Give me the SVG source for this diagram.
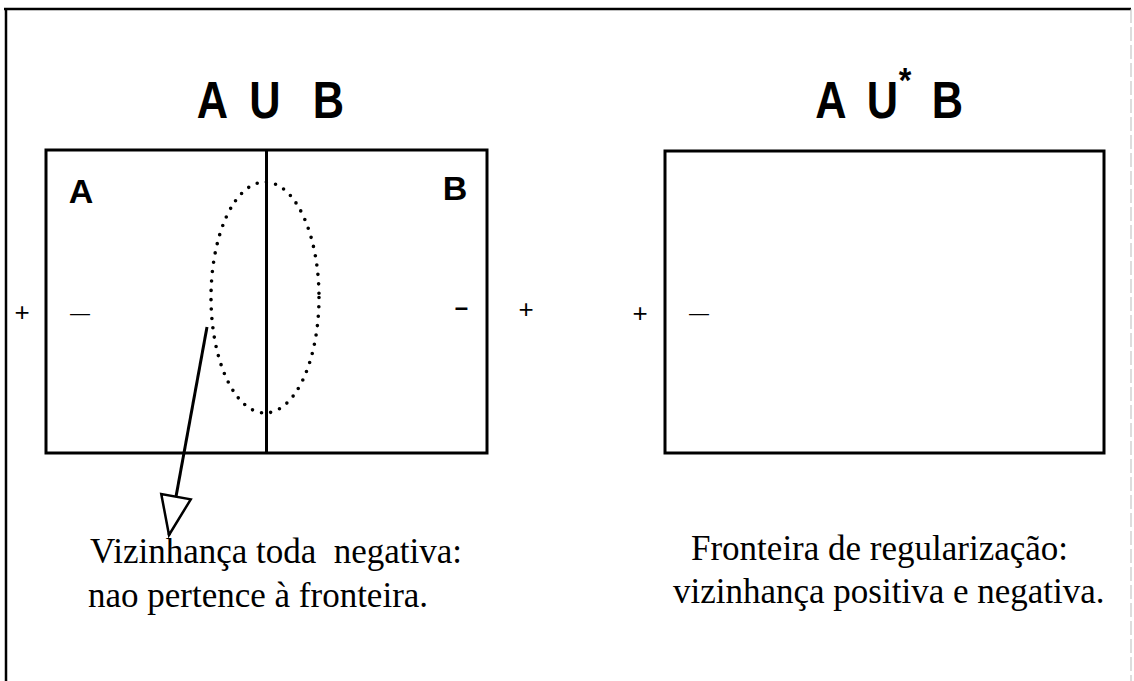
<svg xmlns="http://www.w3.org/2000/svg" width="1134" height="681" viewBox="0 0 1134 681">
  <style>
    .box { fill: none; stroke: #000; stroke-width: 3; }
    .title { font-family: "Liberation Sans", Arial, sans-serif; font-weight: bold; font-size: 51px; fill: #000; text-anchor: middle; }
    .lbl { font-family: "Liberation Sans", Arial, sans-serif; font-weight: bold; font-size: 34px; fill: #000; text-anchor: middle; }
    .sign { font-family: "Liberation Sans", Arial, sans-serif; font-size: 26px; fill: #000; text-anchor: middle; }
    .cap { font-family: "Liberation Serif", "Times New Roman", serif; font-size: 35px; fill: #000; }
  </style>
  <defs>
    <marker id="openArrow" markerWidth="14" markerHeight="12" refX="13" refY="6" orient="auto" markerUnits="userSpaceOnUse" viewBox="0 0 14 12" overflow="visible">
      <path d="M -26 -9 L 13 6 L -26 21 Z" fill="#fff" stroke="#000" stroke-width="2.5" stroke-linejoin="miter"/>
    </marker>
  </defs>
  <rect width="1134" height="681" fill="#fff"/>
  <g id="frame">
    <path d="M 4 9 L 1131 9" stroke="#000" stroke-width="2.5" fill="none"/>
    <path d="M 6 9 L 6 681" stroke="#000" stroke-width="2.5" fill="none"/>
    <path d="M 1131 9 L 1131 681" stroke="#bbb" stroke-width="1" fill="none" stroke-dasharray="14 4"/>
  </g>
  <g id="title-union">
    <text class="title" transform="translate(212.5,118) scale(0.85,1)">A</text>
    <text class="title" transform="translate(265,118) scale(0.85,1)">U</text>
    <text class="title" transform="translate(328.5,118) scale(0.85,1)">B</text>
  </g>
  <g id="title-regular-union">
    <text class="title" transform="translate(831,118) scale(0.85,1)">A</text>
    <text class="title" transform="translate(882.5,118) scale(0.85,1)">U</text>
    <text class="title" transform="translate(905,92) scale(0.9,1)" style="font-size:36px">*</text>
    <text class="title" transform="translate(947.5,118) scale(0.85,1)">B</text>
  </g>
  <g id="box-union">
    <rect class="box" x="46" y="150" width="441" height="303"/>
    <line x1="266.5" y1="150" x2="266.5" y2="453" stroke="#000" stroke-width="3"/>
    <text class="lbl" x="81" y="203">A</text>
    <text class="lbl" x="455" y="200">B</text>
    <text class="sign" x="22" y="321">+</text>
    <text class="sign" x="80" y="320" style="font-size:20px">—</text>
    <text class="sign" x="461.5" y="315" style="font-weight:bold;font-size:24px">–</text>
    <text class="sign" x="526" y="318">+</text>
  </g>
  <g id="neighbourhood">
    <ellipse cx="265" cy="297.5" rx="54" ry="115.5" fill="none" stroke="#000" stroke-width="3.6" stroke-linecap="round" stroke-dasharray="0 9.4"/>
  </g>
  <g id="box-regular">
    <rect class="box" x="665" y="151" width="439" height="302"/>
    <text class="sign" x="640" y="322">+</text>
    <text class="sign" x="699" y="320" style="font-size:20px">—</text>
  </g>
  <g id="connectors">
    <line x1="207" y1="327" x2="169" y2="535" stroke="#000" stroke-width="3" marker-end="url(#openArrow)"/>
  </g>
  <g id="caption-left">
    <text class="cap" x="90" y="563" xml:space="preserve">Vizinhança toda  negativa:</text>
    <text class="cap" x="88" y="607">nao pertence à fronteira.</text>
  </g>
  <g id="caption-right">
    <text class="cap" x="691" y="560">Fronteira de regularização:</text>
    <text class="cap" x="673" y="603">vizinhança positiva e negativa.</text>
  </g>
</svg>
